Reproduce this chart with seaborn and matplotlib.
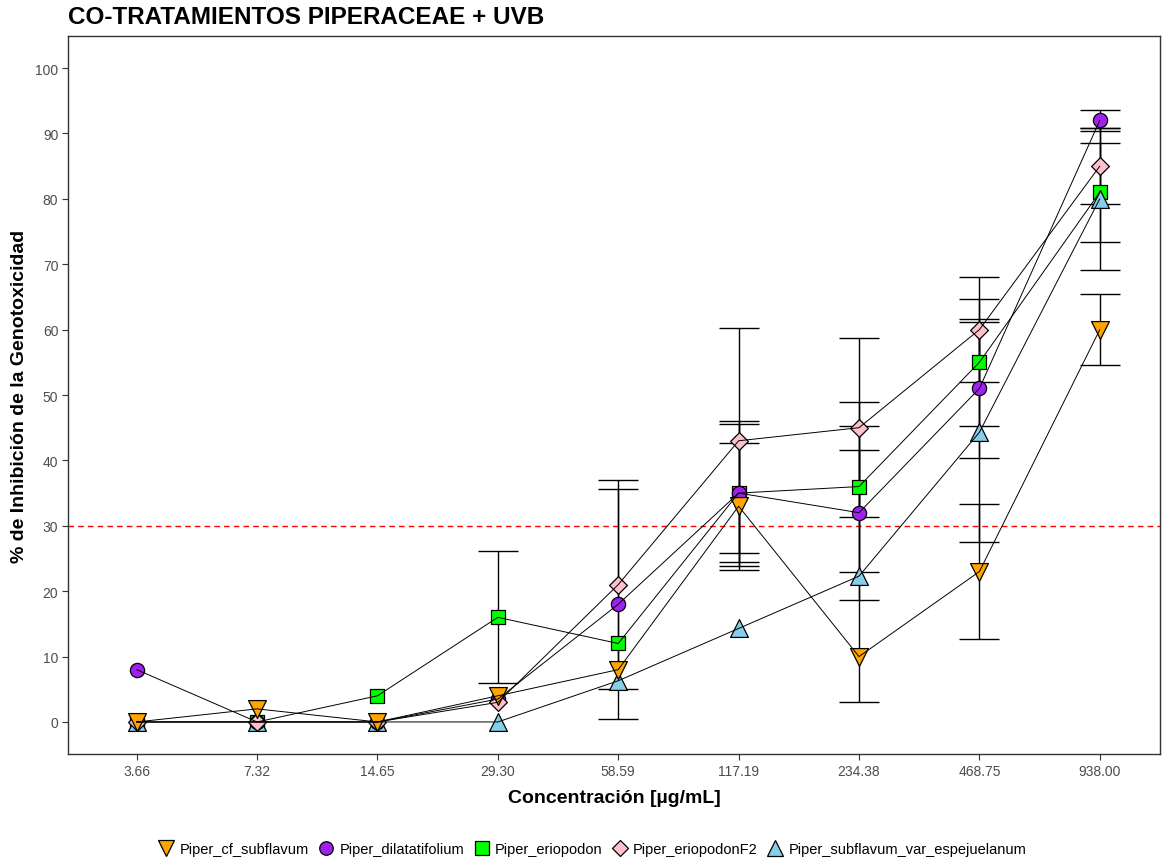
import numpy as np
import pandas as pd
import matplotlib
matplotlib.use("Agg")
import matplotlib.pyplot as plt
import seaborn as sns
from matplotlib.lines import Line2D

conc_labels = ["3.66", "7.32", "14.65", "29.30", "58.59", "117.19", "234.38", "468.75", "938.00"]
species = ["Piper_cf_subflavum", "Piper_dilatatifolium", "Piper_eriopodon",
           "Piper_eriopodonF2", "Piper_subflavum_var_espejuelanum"]

cf_subflavum = [0, 2, 0, 4, 8, 33, 10, 23, 60]
dilatatifolium = [8, 0, 0, 3.5, 18, 35, 32, 51, 92]
eriopodon = [0, 0, 4, 16, 12, 35, 36, 55, 81]
eriopodonF2 = [0, 0, 0, 3, 21, 43, 45, 60, 85]
subflavum_var = [0, 0, 0, 0, 6.3, 14.3, 22.3, 44.3, 80]

nan = np.nan
cf_subflavum_sd = [nan, nan, nan, nan, nan, 9.7, nan, 10.3, 5.4]
dilatatifolium_sd = [nan, nan, nan, nan, 17.6, 11.1, 13.3, 10.6, 1.6]
eriopodon_sd = [nan, nan, nan, 10.1, nan, 10.5, 13.0, 9.7, 7.6]
eriopodonF2_sd = [nan, nan, nan, nan, 16.0, 17.2, 13.7, 8.0, 5.8]
subflavum_var_sd = [nan, nan, nan, nan, nan, nan, 19.3, 16.8, 10.9]

threshold = 30

values = [cf_subflavum, dilatatifolium, eriopodon, eriopodonF2, subflavum_var]
sds = [cf_subflavum_sd, dilatatifolium_sd, eriopodon_sd, eriopodonF2_sd, subflavum_var_sd]

rows = []
for sp, vals, sd in zip(species, values, sds):
    for i, (v, s) in enumerate(zip(vals, sd)):
        rows.append({"species": sp, "pos": i, "conc": conc_labels[i], "value": v, "sd": s})
df = pd.DataFrame(rows)

palette = {
    "Piper_cf_subflavum": "#FFA500",
    "Piper_dilatatifolium": "#A020F0",
    "Piper_eriopodon": "#00FF00",
    "Piper_eriopodonF2": "#FFC0CB",
    "Piper_subflavum_var_espejuelanum": "#87CEEB",
}
markers = {
    "Piper_cf_subflavum": "v",
    "Piper_dilatatifolium": "o",
    "Piper_eriopodon": "s",
    "Piper_eriopodonF2": "D",
    "Piper_subflavum_var_espejuelanum": "^",
}
sizes = {
    "Piper_cf_subflavum": 165,
    "Piper_dilatatifolium": 105,
    "Piper_eriopodon": 100,
    "Piper_eriopodonF2": 82,
    "Piper_subflavum_var_espejuelanum": 165,
}
draw_order = ["Piper_eriopodon", "Piper_subflavum_var_espejuelanum", "Piper_dilatatifolium",
              "Piper_eriopodonF2", "Piper_cf_subflavum"]

sns.set_theme(style="white")
plt.rcParams["font.family"] = ["Liberation Sans", "DejaVu Sans"]
plt.rcParams["text.color"] = "black"
plt.rcParams["axes.labelcolor"] = "black"

fig = plt.figure(figsize=(11.62, 8.62), dpi=100)
ax = fig.add_axes([68 / 1162, 1 - 755 / 862, (1160 - 68) / 1162, (755 - 37) / 862])

# error bars
for sp in species:
    d = df[(df.species == sp) & df.sd.notna()]
    ax.errorbar(d.pos, d.value, yerr=d.sd, fmt="none", ecolor="black",
                elinewidth=1.0, capsize=14.5, capthick=1.0, zorder=2)

# points
for k, sp in enumerate(draw_order):
    d = df[df.species == sp]
    sns.scatterplot(data=d, x="pos", y="value", ax=ax, marker=markers[sp],
                    color=palette[sp], edgecolor="black", linewidth=0.9,
                    s=sizes[sp], zorder=3 + k * 0.01, legend=False)

# connecting lines
sns.lineplot(data=df, x="pos", y="value", units="species", estimator=None,
             color="black", lw=0.7, ax=ax, zorder=4, sort=True)

ax.axhline(threshold, color="red", ls=(0, (4, 3)), lw=1.0, zorder=1)

ax.set_xlim(-0.57, 8.5)
ax.set_ylim(-4.9, 104.9)
ax.set_xticks(range(len(conc_labels)))
ax.set_xticklabels(conc_labels)
ax.set_yticks(range(0, 101, 10))
ax.tick_params(axis="both", which="major", length=4, width=0.8, color="#333333",
               labelsize=10, labelcolor="#4D4D4D", bottom=True, left=True, pad=3)
for s in ax.spines.values():
    s.set_color("#333333")
    s.set_linewidth(1.0)
ax.grid(False)

ax.set_xlabel("Concentración [µg/mL]", fontsize=14, fontweight="bold", labelpad=8)
ax.set_ylabel("% de Inhibición de la Genotoxicidad", fontsize=14, fontweight="bold", labelpad=5)

fig.text(68 / 1162, 1 - 18 / 862, "CO-TRATAMIENTOS PIPERACEAE + UVB",
         fontsize=17.5, fontweight="bold", ha="left", va="center", color="black")

handles = [Line2D([], [], ls="none", marker=markers[sp], markerfacecolor=palette[sp],
                  markeredgecolor="black", markeredgewidth=0.9,
                  markersize=np.sqrt(sizes[sp]) * 0.95, label=sp) for sp in species]
fig.legend(handles=handles, loc="center", bbox_to_anchor=(592 / 1162, 1 - 850 / 862),
           ncol=5, frameon=False, fontsize=10.5, handletextpad=0.3, columnspacing=0.6,
           handlelength=1.2)

fig.savefig("out.png", dpi=100)
